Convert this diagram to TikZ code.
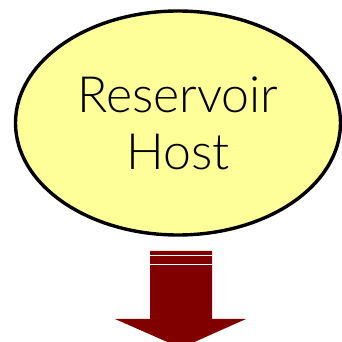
\documentclass[tikz,border=0pt]{standalone}
\usepackage{fontspec}
\setmainfont{Lato Light}
\usetikzlibrary{shapes.geometric}
\definecolor{hostyellow}{RGB}{255,255,153}
\definecolor{arrowred}{RGB}{128,0,0}
\tikzset{
  host node/.style={ellipse,draw,line width=3.4pt,fill=hostyellow,minimum width=325pt,minimum height=224pt,inner sep=0pt,font=\fontsize{50}{57}\selectfont,align=center},
  down arrow/.style={fill=arrowred,draw=none},
  stripe/.style={white,line width=0.9pt},
}
\begin{document}
\begin{tikzpicture}[x=1pt,y=1pt]
  \useasboundingbox (0,0) rectangle (342,342);
  \node[host node] (host) at (178,219) {Reservoir\\Host};
  % arrow below the host
  \coordinate (shaftL) at (150,91);
  \coordinate (shaftR) at (212,91);
  \filldraw[down arrow] (shaftL) -- (shaftR) -- (212,23) -- (246,23) -- (181,-6) -- (115,23) -- (150,23) -- cycle;
  \coordinate (s1L) at (150,87);
  \coordinate (s1R) at (212,87);
  \coordinate (s2L) at (150,77.5);
  \coordinate (s2R) at (212,77.5);
  \draw[stripe] (s1L) -- (s1R);
  \draw[stripe] (s2L) -- (s2R);
\end{tikzpicture}
\end{document}
